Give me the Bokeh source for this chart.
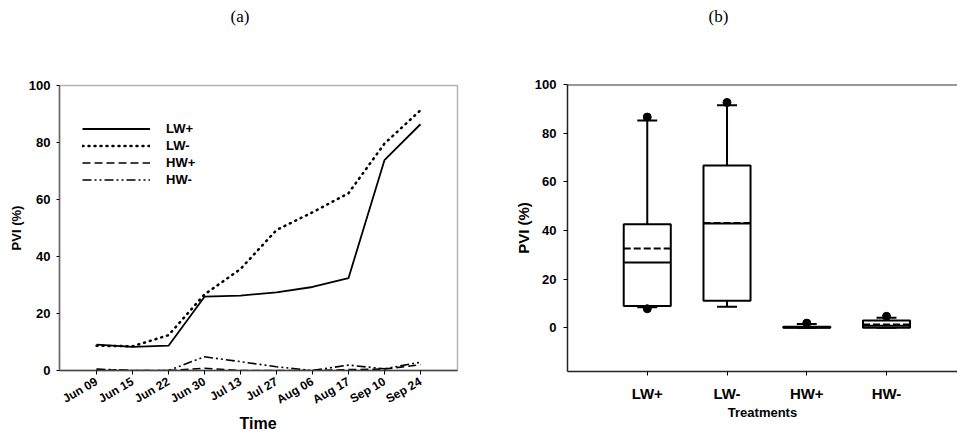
from bokeh.plotting import figure
from bokeh.layouts import row, column
from bokeh.models import FixedTicker, Legend, LegendItem, Span, ColumnDataSource, Range1d, Div
from bokeh.embed import file_html
from bokeh.resources import INLINE

# ---------------- data ----------------
dates = ["Jun 09", "Jun 15", "Jun 22", "Jun 30", "Jul 13", "Jul 27", "Aug 06", "Aug 17", "Sep 10", "Sep 24"]
lw_plus = [9.1, 8.3, 8.7, 25.9, 26.3, 27.4, 29.3, 32.4, 73.8, 86.4]
lw_minus = [8.7, 8.5, 12.4, 26.7, 35.6, 49.3, 55.5, 62.2, 79.6, 91.3]
hw_plus = [0.3, 0.0, 0.0, 0.8, 0.0, 0.0, 0.0, 0.3, 0.5, 2.0]
hw_minus = [0.5, 0.0, 0.0, 4.8, 3.1, 1.3, 0.0, 1.9, 0.6, 2.9]

treatments = ["LW+", "LW-", "HW+", "HW-"]
q1 = [8.9, 11.1, 0.0, 0.0]
q3 = [42.5, 66.7, 0.4, 3.0]
median = [26.8, 42.8, 0.1, 0.8]
mean = [32.6, 43.1, 0.3, 1.3]
whisk_lo = [8.4, 8.6, 0.0, 0.0]
whisk_hi = [85.2, 91.5, 1.5, 4.1]
outlier_group = [0, 0, 1, 2, 3]
outlier_val = [86.6, 7.8, 92.6, 1.9, 4.7]

yticks = [0, 20, 40, 60, 80, 100]
panel_titles = ["(a)", "(b)"]
time_title = "Time"

FONT = "Liberation Sans"
SERIF = "Liberation Serif"
TOP = 40      # height of the title strip
BOTTOM = 17   # height of the "Time" strip under panel (a)


def style_axis(a, tick_size, label_size):
    a.major_label_text_font = FONT
    a.major_label_text_font_style = "bold"
    a.major_label_text_font_size = tick_size
    a.major_label_text_color = "black"
    a.axis_label_text_font = FONT
    a.axis_label_text_font_style = "bold"
    a.axis_label_text_font_size = label_size
    a.axis_label_text_color = "black"
    a.minor_tick_line_color = None
    a.major_tick_in = 0


# ---------------- panel (a) ----------------
xi = list(range(len(dates)))
p1 = figure(width=480, height=432 - TOP - BOTTOM, output_backend="svg", toolbar_location=None,
            x_range=Range1d(-1.03, len(dates) + 0.03), y_range=Range1d(0, 100),
            min_border_left=59, min_border_right=23, min_border_top=85 - TOP,
            min_border_bottom=61 - BOTTOM, margin=0)
p1.grid.grid_line_color = None
p1.outline_line_color = "#b4b4b4"
p1.outline_line_width = 1.5

r1 = p1.line(xi, lw_plus, line_color="black", line_width=1.8)
r2 = p1.line(xi, lw_minus, line_color="black", line_width=2.5, line_dash="1 5", line_cap="round")
r3 = p1.line(xi, hw_plus, line_color="black", line_width=1.6, line_dash="8 4")
r4 = p1.line(xi, hw_minus, line_color="black", line_width=1.6, line_dash="9 3 2 3 2 3")

ax = p1.xaxis[0]
style_axis(ax, "12px", "16px")
ax.ticker = FixedTicker(ticks=xi)
ax.major_label_overrides = {i: d for i, d in enumerate(dates)}
ax.major_label_orientation = 0.5236
ax.major_label_standoff = 6
ax.major_tick_out = 4
ax.axis_line_color = "#444444"
ax.axis_line_width = 1.5

ay = p1.yaxis[0]
style_axis(ay, "13px", "13px")
ay.ticker = FixedTicker(ticks=yticks)
ay.axis_label = "PVI (%)"
ay.axis_label_standoff = 2
ay.major_tick_out = 3
ay.major_label_standoff = 6
ay.axis_line_color = "#666666"
ay.axis_line_width = 1.5

legend = Legend(items=[LegendItem(label="LW+", renderers=[r1]),
                       LegendItem(label="LW-", renderers=[r2]),
                       LegendItem(label="HW+", renderers=[r3]),
                       LegendItem(label="HW-", renderers=[r4])],
                location=(23, 182), glyph_width=68, glyph_height=17, label_height=17,
                label_standoff=16, spacing=0, padding=0, margin=0,
                border_line_color=None, background_fill_alpha=0,
                label_text_font=FONT, label_text_font_style="bold", label_text_font_size="13px",
                label_text_color="black")
p1.add_layout(legend, "center")

time_div = Div(text=time_title, width=398, height=BOTTOM, margin=(0, 23, 0, 59),
               styles={"text-align": "center", "font-family": FONT, "font-weight": "bold",
                       "font-size": "16px", "line-height": "17px", "color": "black"})

# ---------------- panel (b) ----------------
gx = list(range(len(treatments)))
p2 = figure(width=477, height=432 - TOP, output_backend="svg", toolbar_location=None,
            x_range=Range1d(-1.0, 3.89), y_range=Range1d(-18, 100),
            min_border_left=87, min_border_right=0, min_border_top=84 - TOP, min_border_bottom=61,
            margin=0)
p2.grid.grid_line_color = None
p2.outline_line_color = None
p2.add_layout(Span(location=100, dimension="width", line_color="#333333", line_width=2))

bw = 0.59
cw = 0.25
src = ColumnDataSource(dict(x=gx, q1=q1, q3=q3, med=median, mean=mean, lo=whisk_lo, hi=whisk_hi,
                            l=[g - bw / 2 for g in gx], r=[g + bw / 2 for g in gx],
                            cl=[g - cw / 2 for g in gx], cr=[g + cw / 2 for g in gx]))
p2.segment(x0="x", y0="q3", x1="x", y1="hi", source=src, line_color="black", line_width=2)
p2.segment(x0="x", y0="lo", x1="x", y1="q1", source=src, line_color="black", line_width=2)
p2.segment(x0="cl", y0="hi", x1="cr", y1="hi", source=src, line_color="black", line_width=2)
p2.segment(x0="cl", y0="lo", x1="cr", y1="lo", source=src, line_color="black", line_width=2)
p2.quad(left="l", right="r", bottom="q1", top="q3", source=src, fill_color="white",
        line_color="black", line_width=2)
p2.segment(x0="l", y0="med", x1="r", y1="med", source=src, line_color="black", line_width=2)
p2.segment(x0="l", y0="mean", x1="r", y1="mean", source=src, line_color="black", line_width=2,
           line_dash="7 3")
p2.scatter(outlier_group, outlier_val, size=8, fill_color="black", line_color="black")

bx = p2.xaxis[0]
style_axis(bx, "15px", "13px")
bx.ticker = FixedTicker(ticks=gx)
bx.major_label_overrides = {i: t for i, t in enumerate(treatments)}
bx.major_label_standoff = 9
bx.axis_label = "Treatments"
bx.axis_label_standoff = 0
bx.major_tick_out = 4
bx.axis_line_color = "#222222"
bx.axis_line_width = 1.5

by = p2.yaxis[0]
style_axis(by, "13px", "15px")
by.ticker = FixedTicker(ticks=yticks)
by.major_label_standoff = 7
by.axis_label = "PVI (%)"
by.axis_label_standoff = 0
by.major_tick_out = 4
by.axis_line_color = "#222222"
by.axis_line_width = 1.5

title_style = {"text-align": "center", "font-family": SERIF, "font-size": "17px",
               "line-height": "34px", "color": "black"}
t1 = Div(text=panel_titles[0], width=480, height=TOP, styles=title_style, margin=0)
t2 = Div(text=panel_titles[1], width=477, height=TOP, styles=title_style, margin=0)

left = column(p1, time_div, margin=0, spacing=0)
layout = column(row(t1, t2, margin=0, spacing=0), row(left, p2, margin=0, spacing=0),
                margin=0, spacing=0)
open("out.html", "w").write(file_html(layout, INLINE))
